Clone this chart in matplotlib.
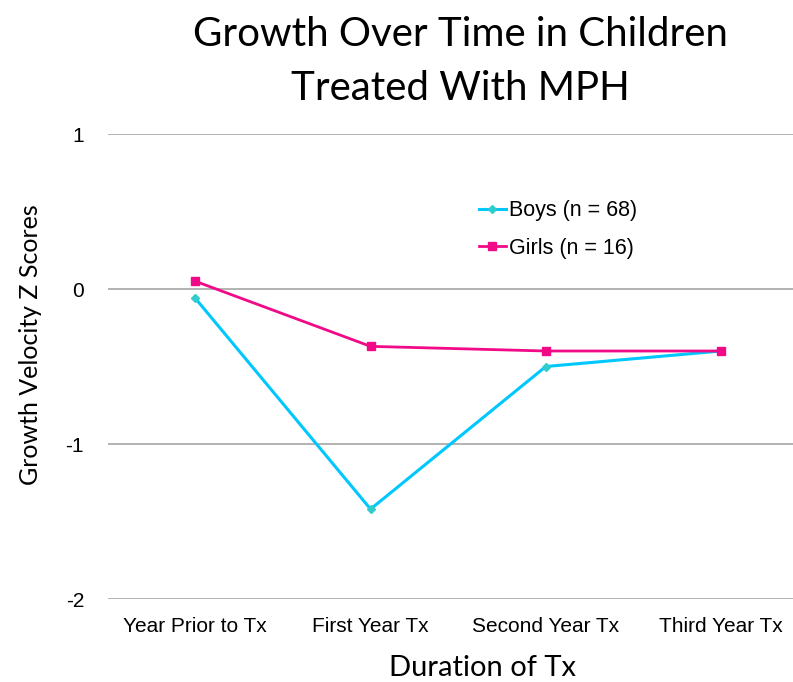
import numpy as np
import matplotlib.pyplot as plt

# growth velocity z scores per treatment year
periods = ["Year Prior to Tx", "First Year Tx", "Second Year Tx", "Third Year Tx"]
boys = [-0.06, -1.42, -0.50, -0.40]
girls = [0.05, -0.37, -0.40, -0.40]
y_ticks = [-2, -1, 0, 1]

boys_line = "#00c8ff"
boys_mark = "#33cccc"
girls_col = "#f00a88"

fig = plt.figure(figsize=(7.93, 6.82), dpi=100)
ax = fig.add_axes([0.1358, 0.1217, 0.884, 0.6818])

x = np.arange(len(periods))
ax.plot(x, boys, color=boys_line, lw=2.2, marker="D", ms=4.5,
        mfc=boys_mark, mec=boys_mark, label="Boys (n = 68)", zorder=3)
ax.plot(x, girls, color=girls_col, lw=2.0, marker="s", ms=5.5,
        mfc=girls_col, mec=girls_col, label="Girls (n = 16)", zorder=4)

ax.set_xlim(-0.5, len(periods) - 0.5)
ax.set_ylim(-2, 1)
ax.set_yticks(y_ticks)
ax.set_yticklabels([str(v) for v in y_ticks], family="Liberation Sans", fontsize=15)
ax.set_xticks(x)
ax.set_xticklabels(periods, family="Liberation Sans", fontsize=15)
ax.tick_params(length=0, pad=13)
ax.tick_params(axis="y", pad=17)
ax.grid(axis="y", color="#a6a6a6", lw=1.2)
ax.set_axisbelow(True)
for s in ax.spines.values():
    s.set_visible(False)

fig.text(0.0385, 0.494, "Growth Velocity Z Scores", rotation=90,
         ha="center", va="center", family="Lato", fontsize=18)
fig.text(0.609, 0.009, "Duration of Tx", ha="center", va="baseline",
         family="Lato", fontsize=21)
fig.text(0.58, 0.9096, "Growth Over Time in Children\nTreated With MPH",
         ha="center", va="center", family="Lato", fontsize=29, linespacing=1.55)

ax.legend(loc="upper left", bbox_to_anchor=(0.590, 0.722),
          bbox_transform=fig.transFigure, frameon=False, borderpad=0,
          prop={"family": "Liberation Sans", "size": 15.5},
          handlelength=1.25, handletextpad=0.15, labelspacing=0.75)

fig.savefig("out.png", dpi=100)
